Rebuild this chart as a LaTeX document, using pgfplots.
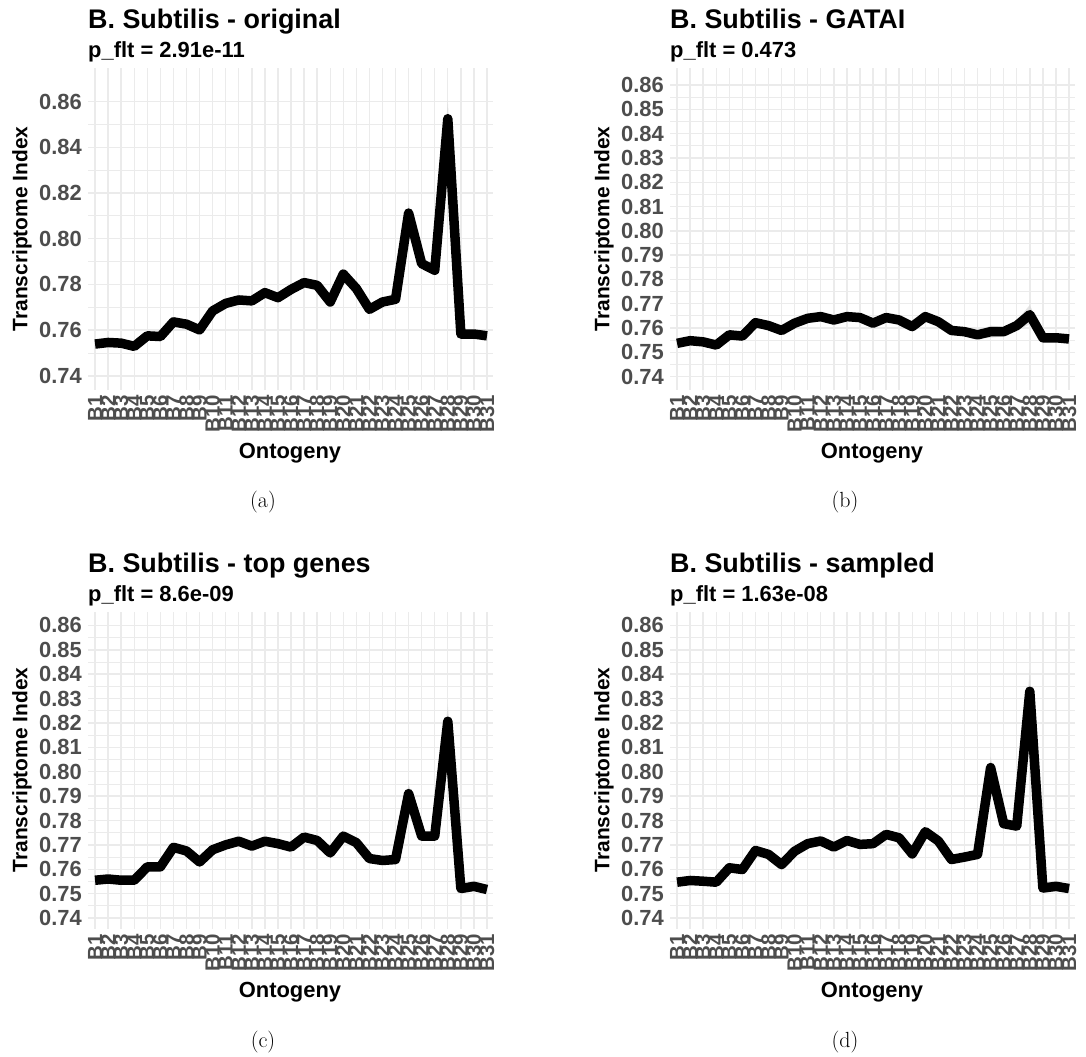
\documentclass[border=0pt]{standalone}
\usepackage{fontspec}
\newfontfamily\arial{Liberation Sans}
\usepackage{pgfplots}
\usepackage{pgfplotstable}
\pgfplotsset{compat=1.18}
\usepgfplotslibrary{fillbetween}
\definecolor{tickgray}{HTML}{4D4D4D}
\definecolor{gridgray}{HTML}{EBEBEB}
\definecolor{ribbon}{HTML}{DDDDDD}

\pgfplotstableread{
x y e
1 0.7539 0.0012
2 0.7546 0.0012
3 0.7543 0.0012
4 0.7529 0.0015
5 0.7575 0.0015
6 0.7572 0.0015
7 0.7636 0.0015
8 0.7626 0.0012
9 0.7601 0.0012
10 0.7684 0.0010
11 0.7717 0.0010
12 0.7732 0.0010
13 0.7728 0.0010
14 0.7764 0.0010
15 0.7742 0.0010
16 0.7778 0.0010
17 0.7808 0.0010
18 0.7796 0.0010
19 0.7723 0.0010
20 0.7845 0.0010
21 0.7782 0.0012
22 0.7691 0.0012
23 0.7723 0.0012
24 0.7735 0.0012
25 0.8112 0.0040
26 0.7891 0.0015
27 0.7862 0.0015
28 0.8525 0.0080
29 0.7583 0.0020
30 0.7583 0.0020
31 0.7575 0.0015
}\tA

\pgfplotstableread{
x y e
1 0.7537 0.0012
2 0.7548 0.0012
3 0.7543 0.0012
4 0.7530 0.0015
5 0.7572 0.0015
6 0.7567 0.0015
7 0.7622 0.0018
8 0.7610 0.0015
9 0.7590 0.0012
10 0.7620 0.0010
11 0.7640 0.0010
12 0.7647 0.0010
13 0.7633 0.0010
14 0.7647 0.0010
15 0.7643 0.0010
16 0.7620 0.0010
17 0.7643 0.0010
18 0.7633 0.0010
19 0.7606 0.0010
20 0.7647 0.0010
21 0.7626 0.0012
22 0.7590 0.0012
23 0.7585 0.0012
24 0.7572 0.0015
25 0.7585 0.0025
26 0.7585 0.0020
27 0.7610 0.0020
28 0.7655 0.0040
29 0.7560 0.0015
30 0.7560 0.0015
31 0.7555 0.0015
}\tB

\pgfplotstableread{
x y e
1 0.7555 0.0012
2 0.7560 0.0012
3 0.7555 0.0012
4 0.7555 0.0015
5 0.7610 0.0015
6 0.7610 0.0015
7 0.7690 0.0015
8 0.7675 0.0012
9 0.7630 0.0012
10 0.7680 0.0010
11 0.7700 0.0010
12 0.7715 0.0010
13 0.7695 0.0010
14 0.7715 0.0010
15 0.7705 0.0010
16 0.7691 0.0010
17 0.7732 0.0010
18 0.7718 0.0010
19 0.7667 0.0010
20 0.7736 0.0010
21 0.7709 0.0012
22 0.7644 0.0012
23 0.7636 0.0012
24 0.7640 0.0012
25 0.7910 0.0040
26 0.7736 0.0015
27 0.7736 0.0015
28 0.8207 0.0070
29 0.7521 0.0020
30 0.7530 0.0020
31 0.7517 0.0015
}\tC

\pgfplotstableread{
x y e
1 0.7547 0.0012
2 0.7554 0.0012
3 0.7551 0.0012
4 0.7547 0.0015
5 0.7606 0.0015
6 0.7599 0.0015
7 0.7677 0.0015
8 0.7661 0.0012
9 0.7619 0.0012
10 0.7674 0.0010
11 0.7705 0.0010
12 0.7716 0.0010
13 0.7691 0.0010
14 0.7718 0.0010
15 0.7702 0.0010
16 0.7705 0.0010
17 0.7743 0.0010
18 0.7729 0.0010
19 0.7663 0.0010
20 0.7754 0.0010
21 0.7716 0.0012
22 0.7640 0.0012
23 0.7650 0.0012
24 0.7661 0.0012
25 0.8017 0.0045
26 0.7787 0.0015
27 0.7777 0.0015
28 0.8330 0.0090
29 0.7523 0.0020
30 0.7530 0.0020
31 0.7521 0.0015
}\tD

\pgfplotsset{
  panel/.style={
    scale only axis, width=405bp,
    xmin=0.46, xmax=31.46,
    xtick={1,...,31},
    xticklabels={B1,B2,B3,B4,B5,B6,B7,B8,B9,B10,B11,B12,B13,B14,B15,B16,B17,B18,B19,B20,B21,B22,B23,B24,B25,B26,B27,B28,B29,B30,B31},
    axis line style={draw=none},
    major tick length=0pt, minor tick length=0pt,
    xmajorgrids, ymajorgrids, yminorgrids, minor y tick num=1,
    major grid style={gridgray, line width=1.4bp},
    minor grid style={gridgray, line width=0.8bp},
    /pgf/number format/assume math mode=true,
    scaled y ticks=false,
    yticklabel style={font=\arial\bfseries\fontsize{22}{22}\selectfont, text=tickgray,
      inner sep=0pt, xshift=-6bp,
      /pgf/number format/fixed, /pgf/number format/fixed zerofill,
      /pgf/number format/precision=2},
    xticklabel style={font=\arial\bfseries\fontsize{20.5}{20.5}\selectfont, text=tickgray,
      rotate=90, anchor=east, inner xsep=5bp, inner ysep=0pt},
  },
  rib/.style={draw=none, fill=ribbon, fill opacity=0.8},
  tline/.style={black, line width=9.5bp, line join=round},
}

\newcommand{\ttl}[4]{%
  \node[anchor=base west, inner sep=0pt, font=\arial\bfseries\fontsize{27}{30}\selectfont] at (#1bp,-#2bp) {#3};
  \node[anchor=base west, inner sep=0pt, font=\arial\bfseries\fontsize{22}{24}\selectfont] at (#1bp,-#2bp-29bp) {#4};
}

\begin{document}
\begin{tikzpicture}

% ---------- (a)
\begin{axis}[panel, height=322bp, at={(88bp,-390bp)}, anchor=south west,
  ymin=0.7338, ymax=0.8747, ytick={0.74,0.76,...,0.861}]
\addplot[name path=U, draw=none] table[x=x, y expr=\thisrow{y}+\thisrow{e}] {\tA};
\addplot[name path=L, draw=none] table[x=x, y expr=\thisrow{y}-\thisrow{e}] {\tA};
\addplot[rib] fill between[of=U and L];
\addplot[tline] table[x=x, y=y] {\tA};
\end{axis}

% ---------- (b)
\begin{axis}[panel, height=322bp, at={(670bp,-390bp)}, anchor=south west,
  ymin=0.7345, ymax=0.867, ytick={0.74,0.75,...,0.861}]
\addplot[name path=U, draw=none] table[x=x, y expr=\thisrow{y}+\thisrow{e}] {\tB};
\addplot[name path=L, draw=none] table[x=x, y expr=\thisrow{y}-\thisrow{e}] {\tB};
\addplot[rib] fill between[of=U and L];
\addplot[tline] table[x=x, y=y] {\tB};
\end{axis}

% ---------- (c)
\begin{axis}[panel, height=317bp, at={(88bp,-929bp)}, anchor=south west,
  ymin=0.7355, ymax=0.8655, ytick={0.74,0.75,...,0.861}]
\addplot[name path=U, draw=none] table[x=x, y expr=\thisrow{y}+\thisrow{e}] {\tC};
\addplot[name path=L, draw=none] table[x=x, y expr=\thisrow{y}-\thisrow{e}] {\tC};
\addplot[rib] fill between[of=U and L];
\addplot[tline] table[x=x, y=y] {\tC};
\end{axis}

% ---------- (d)
\begin{axis}[panel, height=317bp, at={(670bp,-929bp)}, anchor=south west,
  ymin=0.7355, ymax=0.8655, ytick={0.74,0.75,...,0.861}]
\addplot[name path=U, draw=none] table[x=x, y expr=\thisrow{y}+\thisrow{e}] {\tD};
\addplot[name path=L, draw=none] table[x=x, y expr=\thisrow{y}-\thisrow{e}] {\tD};
\addplot[rib] fill between[of=U and L];
\addplot[tline] table[x=x, y=y] {\tD};
\end{axis}

% titles
\ttl{88}{28}{B. Subtilis - original}{p\_flt = 2.91e-11}
\ttl{670}{28}{B. Subtilis - GATAI}{p\_flt = 0.473}
\ttl{88}{572}{B. Subtilis - top genes}{p\_flt = 8.6e-09}
\ttl{670}{572}{B. Subtilis - sampled}{p\_flt = 1.63e-08}

% y labels
\foreach \xx/\yy in {22/229, 604/229, 22/770, 604/770}{
  \node[rotate=90, inner sep=0pt, font=\arial\bfseries\fontsize{21}{21}\selectfont] at (\xx bp,-\yy bp) {Transcriptome Index};
}
% x labels
\foreach \xx/\yy in {290/458, 872/458, 290/997, 872/997}{
  \node[anchor=base, inner sep=0pt, font=\arial\bfseries\fontsize{22}{22}\selectfont] at (\xx bp,-\yy bp) {Ontogeny};
}
% captions
\foreach \xx/\yy/\cc in {263/507/a, 845/507/b, 263/1047/c, 845/1047/d}{
  \node[anchor=base, inner sep=0pt, font=\fontsize{22}{22}\selectfont] at (\xx bp,-\yy bp) {(\cc)};
}

\pgfresetboundingbox
\path[use as bounding box] (0,0) rectangle (1086bp,-1057bp);
\end{tikzpicture}
\end{document}
